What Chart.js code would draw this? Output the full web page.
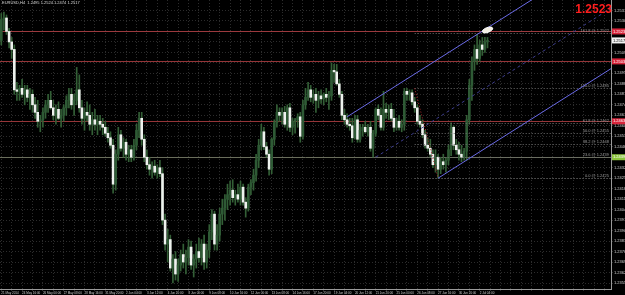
<!DOCTYPE html>
<html>
<head>
<meta charset="utf-8">
<title>EURUSD,H4</title>
<script src="https://cdn.jsdelivr.net/npm/chart.js@4.4.1/dist/chart.umd.min.js"></script>
<style>
html, body { margin: 0; padding: 0; background: #000; overflow: hidden; }
#wrap { width: 625px; height: 295px; }
</style>
</head>
<body>
<div id="wrap"><canvas id="myChart" width="625" height="295"></canvas></div>
<script>
// EURUSD H4 candles
const opens = [
  1.2517, 1.2531, 1.2532, 1.2523, 1.2516, 1.2511, 1.2484, 1.2483, 1.2485, 1.2481,
  1.2484, 1.2479, 1.2481, 1.2474, 1.2469, 1.2463, 1.2464, 1.2469, 1.2474, 1.2477,
  1.2472, 1.2467, 1.2471, 1.2465, 1.2467, 1.2472, 1.2477, 1.2481, 1.2474, 1.2477,
  1.2484, 1.2472, 1.2465, 1.2469, 1.2467, 1.2461, 1.2464, 1.2461, 1.2463, 1.2461,
  1.2459, 1.2455, 1.2452, 1.2447, 1.2421, 1.2441, 1.2454, 1.2445, 1.2449, 1.2441,
  1.2444, 1.2439, 1.2447, 1.2457, 1.2465, 1.2451, 1.2439, 1.2434, 1.2431, 1.2433,
  1.2429, 1.2432, 1.2428, 1.2397, 1.2381, 1.2384, 1.2365, 1.2371, 1.2361, 1.2367,
  1.2374, 1.2369, 1.2372, 1.2379, 1.2367, 1.2371, 1.2376, 1.2372, 1.2381, 1.2369,
  1.2377, 1.2389, 1.2401, 1.2381, 1.2387, 1.2401, 1.2405, 1.2411, 1.2414, 1.2417,
  1.2412, 1.2414, 1.2411, 1.2419, 1.2409, 1.2405, 1.2419, 1.2422, 1.2427, 1.2437,
  1.2447, 1.2456, 1.2446, 1.2441, 1.2431, 1.2451, 1.2462, 1.2469, 1.2467, 1.2469,
  1.2461, 1.2472, 1.2459, 1.2463, 1.2464, 1.2466, 1.2453, 1.2474, 1.2479, 1.2484,
  1.2479, 1.2481, 1.2477, 1.2480, 1.2478, 1.2481, 1.2479, 1.2480, 1.2497, 1.2496,
  1.2488, 1.2481, 1.2467, 1.2464, 1.2461, 1.2460, 1.2452, 1.2464, 1.2451, 1.2457,
  1.2459, 1.2456, 1.2459, 1.2445, 1.2455, 1.2471, 1.2467, 1.2459, 1.2471, 1.2469,
  1.2471, 1.2465, 1.2459, 1.2463, 1.2459, 1.2461, 1.2483, 1.2481, 1.2482, 1.2476,
  1.2472, 1.2463, 1.2461, 1.2454, 1.2447, 1.2445, 1.2441, 1.2434, 1.2439, 1.2431,
  1.2436, 1.2434, 1.2437, 1.2444, 1.2459, 1.2447, 1.2444, 1.2441, 1.2439, 1.2443,
  1.2464, 1.2487, 1.2503, 1.2511, 1.2505, 1.2514, 1.2511, 1.2516
];
const highs = [
  1.2535, 1.2536, 1.2534, 1.2525, 1.2519, 1.2514, 1.2489, 1.2487, 1.2491, 1.2487,
  1.2487, 1.2485, 1.2484, 1.2479, 1.2477, 1.2467, 1.2472, 1.2477, 1.2481, 1.2483,
  1.2477, 1.2474, 1.2476, 1.2471, 1.2474, 1.2480, 1.2485, 1.2485, 1.2481, 1.2499,
  1.2494, 1.2477, 1.2472, 1.2476, 1.2474, 1.2469, 1.2471, 1.2467, 1.2467, 1.2465,
  1.2463, 1.2459, 1.2456, 1.2451, 1.2444, 1.2459, 1.2457, 1.2452, 1.2451, 1.2447,
  1.2447, 1.2451, 1.2461, 1.2469, 1.2469, 1.2454, 1.2444, 1.2439, 1.2436, 1.2437,
  1.2434, 1.2437, 1.2432, 1.2401, 1.2391, 1.2387, 1.2374, 1.2376, 1.2371, 1.2377,
  1.2381, 1.2377, 1.2384, 1.2383, 1.2374, 1.2381, 1.2385, 1.2384, 1.2387, 1.2381,
  1.2394, 1.2404, 1.2403, 1.2394, 1.2405, 1.2411, 1.2414, 1.2421, 1.2423, 1.2424,
  1.2417, 1.2421, 1.2423, 1.2421, 1.2412, 1.2421, 1.2424, 1.2431, 1.2441, 1.2451,
  1.2461, 1.2459, 1.2449, 1.2444, 1.2452, 1.2464, 1.2474, 1.2472, 1.2472, 1.2473,
  1.2474, 1.2475, 1.2465, 1.2465, 1.2468, 1.2469, 1.2477, 1.2485, 1.2489, 1.2487,
  1.2484, 1.2485, 1.2483, 1.2484, 1.2482, 1.2485, 1.2483, 1.2502, 1.2501, 1.2501,
  1.2491, 1.2483, 1.2471, 1.2468, 1.2465, 1.2465, 1.2467, 1.2467, 1.2461, 1.2461,
  1.2463, 1.2461, 1.2463, 1.2457, 1.2472, 1.2474, 1.2472, 1.2483, 1.2475, 1.2474,
  1.2475, 1.2471, 1.2465, 1.2467, 1.2464, 1.2485, 1.2485, 1.2484, 1.2484, 1.2479,
  1.2474, 1.2467, 1.2464, 1.2457, 1.2452, 1.2451, 1.2444, 1.2444, 1.2441, 1.2439,
  1.2441, 1.2439, 1.2447, 1.2462, 1.2460, 1.2451, 1.2449, 1.2447, 1.2445, 1.2467,
  1.2491, 1.2506, 1.2514, 1.2521, 1.2517, 1.2519, 1.2519, 1.2519
];
const lows = [
  1.2514, 1.2524, 1.2521, 1.2512, 1.2505, 1.2481, 1.2477, 1.2477, 1.2479, 1.2474,
  1.2476, 1.2471, 1.2469, 1.2465, 1.2459, 1.2456, 1.2459, 1.2465, 1.2469, 1.2471,
  1.2464, 1.2461, 1.2464, 1.2459, 1.2463, 1.2467, 1.2472, 1.2471, 1.2467, 1.2474,
  1.2469, 1.2461, 1.2457, 1.2463, 1.2457, 1.2454, 1.2457, 1.2454, 1.2457, 1.2454,
  1.2453, 1.2449, 1.2445, 1.2415, 1.2417, 1.2437, 1.2443, 1.2439, 1.2437, 1.2436,
  1.2436, 1.2437, 1.2444, 1.2452, 1.2447, 1.2436, 1.2431, 1.2427, 1.2425, 1.2427,
  1.2425, 1.2426, 1.2394, 1.2377, 1.2369, 1.2363, 1.2355, 1.2357, 1.2356, 1.2363,
  1.2365, 1.2361, 1.2367, 1.2364, 1.2359, 1.2365, 1.2369, 1.2367, 1.2364, 1.2365,
  1.2372, 1.2384, 1.2377, 1.2377, 1.2383, 1.2394, 1.2397, 1.2404, 1.2407, 1.2409,
  1.2407, 1.2409, 1.2407, 1.2407, 1.2399, 1.2403, 1.2414, 1.2417, 1.2423, 1.2432,
  1.2444, 1.2444, 1.2439, 1.2427, 1.2428, 1.2447, 1.2459, 1.2463, 1.2461, 1.2459,
  1.2457, 1.2456, 1.2454, 1.2455, 1.2459, 1.2449, 1.2451, 1.2471, 1.2477, 1.2476,
  1.2475, 1.2469, 1.2472, 1.2475, 1.2474, 1.2476, 1.2471, 1.2477, 1.2489, 1.2487,
  1.2479, 1.2464, 1.2461, 1.2459, 1.2457, 1.2449, 1.2451, 1.2449, 1.2449, 1.2453,
  1.2455, 1.2453, 1.2443, 1.2439, 1.2453, 1.2464, 1.2457, 1.2457, 1.2465, 1.2464,
  1.2463, 1.2456, 1.2457, 1.2457, 1.2456, 1.2457, 1.2477, 1.2477, 1.2474, 1.2469,
  1.2461, 1.2459, 1.2452, 1.2445, 1.2443, 1.2439, 1.2432, 1.2429, 1.2425, 1.2428,
  1.2431, 1.2429, 1.2434, 1.2440, 1.2444, 1.2441, 1.2437, 1.2436, 1.2437, 1.2437,
  1.2461, 1.2477, 1.2497, 1.2501, 1.2503, 1.2507, 1.2509, 1.2512
];
const closes = [
  1.2531, 1.2532, 1.2523, 1.2516, 1.2511, 1.2484, 1.2483, 1.2485, 1.2481, 1.2484,
  1.2479, 1.2481, 1.2474, 1.2469, 1.2463, 1.2464, 1.2469, 1.2474, 1.2477, 1.2472,
  1.2467, 1.2471, 1.2465, 1.2467, 1.2472, 1.2477, 1.2481, 1.2474, 1.2477, 1.2484,
  1.2472, 1.2465, 1.2469, 1.2467, 1.2461, 1.2464, 1.2461, 1.2463, 1.2461, 1.2459,
  1.2455, 1.2452, 1.2447, 1.2421, 1.2441, 1.2454, 1.2445, 1.2449, 1.2441, 1.2444,
  1.2439, 1.2447, 1.2457, 1.2465, 1.2451, 1.2439, 1.2434, 1.2431, 1.2433, 1.2429,
  1.2432, 1.2428, 1.2397, 1.2381, 1.2384, 1.2365, 1.2371, 1.2361, 1.2367, 1.2374,
  1.2369, 1.2372, 1.2379, 1.2367, 1.2371, 1.2376, 1.2372, 1.2381, 1.2369, 1.2377,
  1.2389, 1.2401, 1.2381, 1.2387, 1.2401, 1.2405, 1.2411, 1.2414, 1.2417, 1.2412,
  1.2414, 1.2411, 1.2419, 1.2409, 1.2405, 1.2419, 1.2422, 1.2427, 1.2437, 1.2447,
  1.2456, 1.2446, 1.2441, 1.2431, 1.2451, 1.2462, 1.2469, 1.2467, 1.2469, 1.2461,
  1.2472, 1.2459, 1.2463, 1.2464, 1.2466, 1.2453, 1.2474, 1.2479, 1.2484, 1.2479,
  1.2481, 1.2477, 1.2480, 1.2478, 1.2481, 1.2479, 1.2480, 1.2497, 1.2496, 1.2488,
  1.2481, 1.2467, 1.2464, 1.2461, 1.2460, 1.2452, 1.2464, 1.2451, 1.2457, 1.2459,
  1.2456, 1.2459, 1.2445, 1.2455, 1.2471, 1.2467, 1.2459, 1.2471, 1.2469, 1.2471,
  1.2465, 1.2459, 1.2463, 1.2459, 1.2461, 1.2483, 1.2481, 1.2482, 1.2476, 1.2472,
  1.2463, 1.2461, 1.2454, 1.2447, 1.2445, 1.2441, 1.2434, 1.2439, 1.2431, 1.2436,
  1.2434, 1.2437, 1.2444, 1.2459, 1.2447, 1.2444, 1.2441, 1.2439, 1.2443, 1.2464,
  1.2487, 1.2503, 1.2511, 1.2505, 1.2514, 1.2511, 1.2516, 1.2517
];

// one time label every 8 bars
const dateLabels = [
  '21 May 2014', '24 May 16:00', '26 May 00:00', '27 May 08:00', '28 May 16:00', '31 May 20:00',
  '2 Jun 04:00', '3 Jun 12:00', '4 Jun 20:00', '8 Jun 00:00', '9 Jun 08:00', '10 Jun 16:00',
  '12 Jun 00:00', '13 Jun 08:00', '14 Jun 16:00', '17 Jun 20:00', '19 Jun 04:00', '20 Jun 12:00',
  '21 Jun 20:00', '25 Jun 00:00', '26 Jun 08:00', '27 Jun 16:00', '30 Jun 20:00', '2 Jul 04:00'
];
const priceTicks = [
  1.2537, 1.2530, 1.2523, 1.2516, 1.2509, 1.2502, 1.2495, 1.2488, 1.2481, 1.2474,
  1.2467, 1.2460, 1.2453, 1.2446, 1.2439, 1.2432, 1.2425, 1.2418, 1.2411, 1.2404,
  1.2397, 1.2390, 1.2383, 1.2376, 1.2369, 1.2362, 1.2355
];

// chart objects
const hLines = [1.2523, 1.2503, 1.2463, 1.2439];
const hLineColors = ['#9c3a3e', '#953538', '#953538', '#6a6e5c'];
const axisMarks = [1.2523, 1.2503, 1.2463, 1.2439, 1.2517];
const axisMarkColors = ['#d8243a', '#d8243a', '#d8243a', '#8cc43c', '#f4f4f4'];
const fibRatios = [0, 23.6, 38.2, 50, 61.8, 100, 161.8];
const fibHigh = [159, 1.2485];
const fibLow = [168, 1.2425];
const channelStarts = [[133, 1.2466], [144, 1.2439], [168, 1.2425]];
const channelSlope = 0.00011;
const ellipsePoint = [187, 1.2524];
const bigPrice = 1.2523;
const symbolTitle = 'EURUSD,H4  1.2495 1.2524 1.2474 1.2517';

const slots = 235;
const xLabels = [];
for (let i = 0; i < slots; i++) {
  xLabels.push(i % 8 === 0 && dateLabels[i / 8] ? dateLabels[i / 8] : '');
}

let wicks = [], bodies = [], bodyColors = [];
for (let i = 0; i < opens.length; i++) {
  wicks.push([lows[i], highs[i]]);
  bodies.push([opens[i], closes[i]]);
  bodyColors.push(closes[i] >= opens[i] ? '#2e5a35' : '#eef2ee');
}

const overlays = {
  id: 'overlays',
  beforeDraw(chart) {
    const ctx = chart.ctx;
    ctx.save();
    ctx.fillStyle = '#000';
    ctx.fillRect(0, 0, chart.width, chart.height);
    ctx.restore();
  },
  beforeDatasetsDraw(chart) {
    const {ctx, chartArea: a, scales: {y}} = chart;
    ctx.save();
    ctx.lineWidth = 1;
    hLines.forEach((p, k) => {
      const py = Math.round(y.getPixelForValue(p)) + 0.5;
      ctx.strokeStyle = hLineColors[k];
      ctx.beginPath();
      ctx.moveTo(a.left, py);
      ctx.lineTo(a.right, py);
      ctx.stroke();
    });
    ctx.restore();
  },
  afterDatasetsDraw(chart) {
    const {ctx, chartArea: a, scales: {x, y}} = chart;
    const step = x.getPixelForValue(1) - x.getPixelForValue(0);
    ctx.save();
    ctx.beginPath();
    ctx.rect(a.left, a.top, a.width, a.height);
    ctx.clip();

    // fibo levels
    const fx = x.getPixelForValue(fibHigh[0]);
    ctx.font = '4px "Liberation Sans", Arial, sans-serif';
    ctx.textAlign = 'right';
    ctx.textBaseline = 'bottom';
    fibRatios.forEach(r => {
      const price = fibLow[1] + (fibHigh[1] - fibLow[1]) * r / 100;
      const py = Math.round(y.getPixelForValue(price)) + 0.5;
      ctx.strokeStyle = '#6e6e6e';
      ctx.setLineDash([1, 2]);
      ctx.beginPath();
      ctx.moveTo(fx, py);
      ctx.lineTo(a.right, py);
      ctx.stroke();
      ctx.fillStyle = '#9a9a9a';
      ctx.fillText(r.toFixed(1) + ' @ ' + price.toFixed(4), a.right - 2, py - 1);
    });
    ctx.strokeStyle = '#b03030';
    ctx.beginPath();
    ctx.moveTo(fx, y.getPixelForValue(fibHigh[1]));
    ctx.lineTo(x.getPixelForValue(fibLow[0]), y.getPixelForValue(fibLow[1]));
    ctx.stroke();

    // equidistant channel with median
    channelStarts.forEach((s, k) => {
      const x0 = x.getPixelForValue(s[0]);
      const y0 = y.getPixelForValue(s[1]);
      const y1 = y.getPixelForValue(s[1] + channelSlope * (a.right - x0) / step);
      if (k === 1) {
        ctx.strokeStyle = '#3e3e90';
        ctx.setLineDash([3, 3]);
      } else {
        ctx.strokeStyle = '#6a6ae6';
        ctx.setLineDash([]);
      }
      ctx.beginPath();
      ctx.moveTo(x0, y0);
      ctx.lineTo(a.right, y1);
      ctx.stroke();
    });

    // ellipse marker
    ctx.setLineDash([]);
    ctx.fillStyle = '#f3eee2';
    ctx.strokeStyle = '#ffffff';
    ctx.beginPath();
    ctx.ellipse(x.getPixelForValue(ellipsePoint[0]), y.getPixelForValue(ellipsePoint[1]), 5.5, 2.4, -0.35, 0, Math.PI * 2);
    ctx.fill();
    ctx.stroke();
    ctx.restore();
  },
  afterDraw(chart) {
    const {ctx, chartArea: a, scales: {y}} = chart;
    ctx.save();
    // price boxes on the axis
    ctx.font = '4px "Liberation Sans", Arial, sans-serif';
    ctx.textAlign = 'left';
    ctx.textBaseline = 'middle';
    axisMarks.forEach((p, k) => {
      const py = y.getPixelForValue(p);
      ctx.fillStyle = axisMarkColors[k];
      ctx.fillRect(a.right + 1, py - 3, chart.width - a.right - 1, 6);
      ctx.fillStyle = k === 4 ? '#000' : '#fff';
      ctx.fillText(p.toFixed(4), a.right + 2, py);
    });
    // big price label
    ctx.font = 'bold 12px "Liberation Sans", Arial, sans-serif';
    ctx.textAlign = 'right';
    ctx.textBaseline = 'alphabetic';
    ctx.fillStyle = '#ff1e1e';
    ctx.fillText(bigPrice.toFixed(4), a.right + 1, 13);
    // symbol title
    ctx.font = '4px "Liberation Sans", Arial, sans-serif';
    ctx.textAlign = 'left';
    ctx.textBaseline = 'top';
    ctx.fillStyle = '#d8d8d8';
    ctx.fillText(symbolTitle, 2, 1);
    ctx.restore();
  }
};

const ctx = document.getElementById('myChart');

new Chart(ctx, {
  type: 'bar',
  data: {
    labels: xLabels,
    datasets: [{
      label: 'body',
      data: bodies,
      backgroundColor: bodyColors,
      barThickness: 2,
      minBarLength: 1,
      borderSkipped: false,
      grouped: false,
      order: 0
    }, {
      label: 'wick',
      data: wicks,
      backgroundColor: '#335f36',
      barThickness: 1,
      borderSkipped: false,
      grouped: false,
      order: 1
    }]
  },
  options: {
    responsive: false,
    animation: false,
    devicePixelRatio: 1,
    layout: { padding: 0 },
    plugins: {
      legend: { display: false },
      tooltip: { enabled: false },
      title: { display: false }
    },
    scales: {
      x: {
        grid: { color: '#2c2c2c', offset: false, tickLength: 2 },
        border: { color: '#9a9a9a', dash: [1, 2] },
        ticks: {
          autoSkip: false,
          maxRotation: 0,
          minRotation: 0,
          align: 'start',
          padding: 0,
          color: '#cfcfcf',
          font: { size: 3, family: '"Liberation Sans", Arial, sans-serif' },
          callback: function (v) { return this.getLabelForValue(v); }
        },
        afterBuildTicks: function (s) {
          s.ticks = s.ticks.filter(t => t.value % 4 === 0);
        },
        afterFit: function (s) {
          s.height = 6;
          s.paddingLeft = 0;
          s.paddingRight = 0;
        }
      },
      y: {
        position: 'right',
        min: 1.2351,
        max: 1.2544,
        grid: { color: '#2c2c2c', tickLength: 2 },
        border: { color: '#9a9a9a', dash: [1, 2] },
        ticks: {
          padding: 1,
          color: '#cfcfcf',
          font: { size: 4, family: '"Liberation Sans", Arial, sans-serif' },
          callback: v => v.toFixed(4)
        },
        afterBuildTicks: function (s) {
          s.ticks = priceTicks.map(v => ({ value: v }));
        },
        afterFit: function (s) {
          s.width = 14;
          s.paddingTop = 0;
          s.paddingBottom = 0;
        }
      }
    }
  },
  plugins: [overlays]
});
</script>
</body>
</html>
